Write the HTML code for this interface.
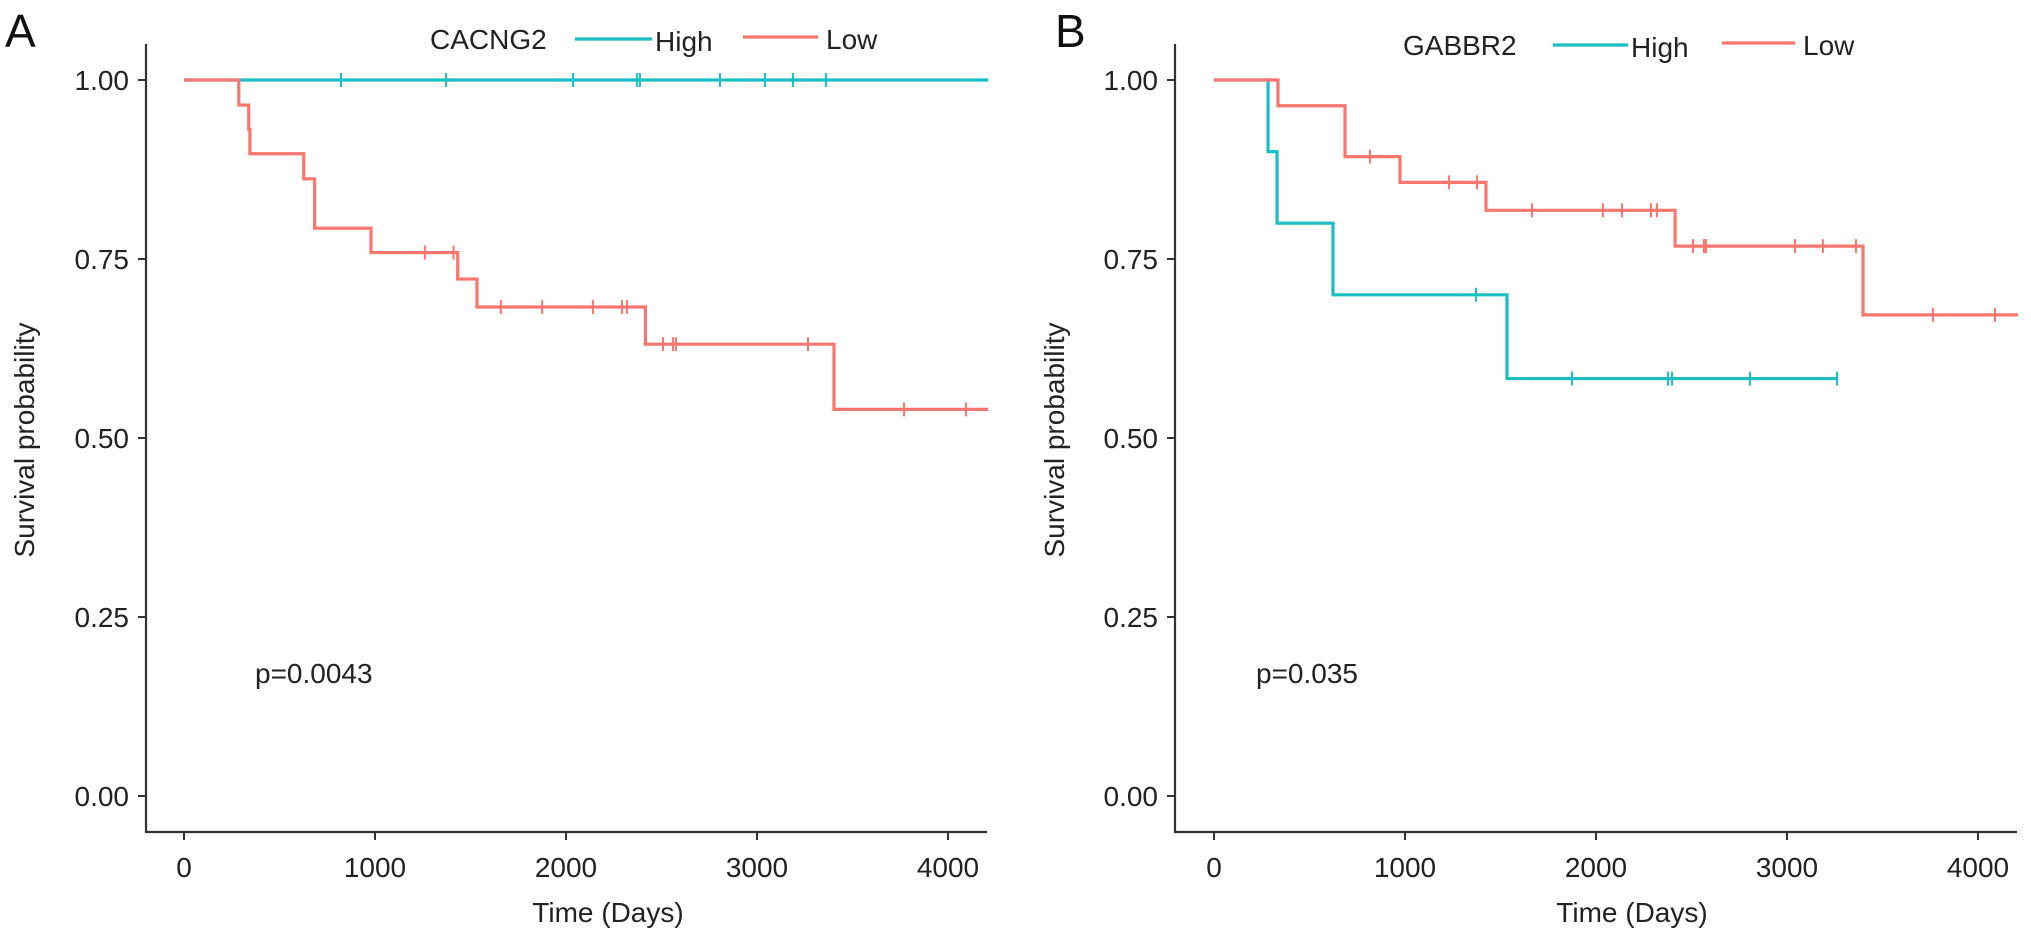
<!DOCTYPE html>
<html><head><meta charset="utf-8"><style>
html,body{margin:0;padding:0;background:#fff;}
svg{display:block;font-family:"Liberation Sans",Arial,sans-serif;}
</style></head><body>
<svg id="chart" width="2031" height="937" viewBox="0 0 2031 937"></svg>
<script>
// ---- Panel A data (CACNG2) ----
const aHighTimes = [0];
const aHighSurv = [1.0];
const aHighEnd = 4210;
const aHighCensor = [822, 1372, 2037, 2372, 2387, 2806, 3042, 3188, 3361];
const aLowTimes = [0, 287, 339, 345, 627, 684, 979, 1433, 1534, 2416, 3403];
const aLowSurv = [1.0, 0.965, 0.931, 0.897, 0.862, 0.793, 0.759, 0.722, 0.683, 0.631, 0.540];
const aLowEnd = 4210;
const aLowCensor = [1261, 1411, 1659, 1875, 2141, 2293, 2319, 2508, 2560, 2576, 3267, 3770, 4094];
// ---- Panel B data (GABBR2) ----
const bHighTimes = [0, 283, 330, 623, 1534];
const bHighSurv = [1.0, 0.9, 0.8, 0.7, 0.583];
const bHighEnd = 3262;
const bHighCensor = [1372, 1874, 2377, 2398, 2806, 3262];
const bLowTimes = [0, 335, 686, 974, 1424, 2414, 3398];
const bLowSurv = [1.0, 0.964, 0.893, 0.857, 0.818, 0.768, 0.672];
const bLowEnd = 4209;
const bLowCensor = [817, 1230, 1377, 1665, 2036, 2136, 2288, 2319, 2508, 2565, 2576, 3042, 3188, 3361, 3764, 4089];
// ---- Axis ticks ----
const xTicks = [0, 1000, 2000, 3000, 4000];
const yTicks = [0, 0.25, 0.5, 0.75, 1.0];
const yTickLabels = ["0.00", "0.25", "0.50", "0.75", "1.00"];

const NS = "http://www.w3.org/2000/svg";
const svg = document.getElementById("chart");
const TEAL = "#1bbfc3", RED = "#f8766d", AX = "#333";

function mk(tag, attrs, parent) {
  const e = document.createElementNS(NS, tag);
  for (const k in attrs) e.setAttribute(k, attrs[k]);
  (parent || svg).appendChild(e);
  return e;
}
function txt(s, attrs, parent) { const t = mk("text", attrs, parent); t.textContent = s; return t; }

function panel(cfg) {
  const g = mk("g", {});
  
  
  const X = t => cfg.x0 + t * 0.191;
  const Y = v => 796 - v * 716;
  // axes
  const ya = mk("line", {x1: cfg.axisX, y1: 44, x2: cfg.axisX, y2: 833, stroke: AX, "stroke-width": 2.2}, g);
  
  
  const xa = mk("line", {x1: cfg.axisX - 1, y1: 832, x2: cfg.axisEnd, y2: 832, stroke: AX, "stroke-width": 2.2}, g);
  
  
  yTicks.forEach((v, i) => {
    mk("line", {x1: cfg.axisX - 8, y1: Y(v), x2: cfg.axisX, y2: Y(v), stroke: AX, "stroke-width": 2}, g);
    const t = txt(yTickLabels[i], {x: cfg.axisX - 17, y: Y(v) + 10, "text-anchor": "end", "font-size": 28, fill: "#222"}, g);
    
    
  });
  xTicks.forEach(v => {
    mk("line", {x1: X(v), y1: 832, x2: X(v), y2: 840, stroke: AX, "stroke-width": 2}, g);
    const t = txt(String(v), {x: X(v), y: 877, "text-anchor": "middle", "font-size": 28, fill: "#222"}, g);
    
    
  });
  const xt = txt("Time (Days)", {x: cfg.xTitleX, y: 922, "text-anchor": "middle", "font-size": 28, fill: "#222"}, g);
  
  
  const yt = txt("Survival probability", {x: 0, y: 0, "text-anchor": "middle", "font-size": 28, fill: "#222", transform: `translate(${cfg.yTitleX},440) rotate(-90)`}, g);
  
  
  const pl = txt(cfg.letter, {x: cfg.letterX, y: 47, "font-size": 46, fill: "#111"}, g);
  
  
  const pv = txt(cfg.pval, {x: cfg.pX, y: 683, "font-size": 28, fill: "#222"}, g);
  
  

  function curve(times, surv, end, cens, color, nm) {
    let d = `M${X(times[0])},${Y(surv[0])}`;
    for (let i = 1; i < times.length; i++) {
      d += ` H${X(times[i])} V${Y(surv[i])}`;
    }
    d += ` H${X(end)}`;
    const p = mk("path", {d: d, fill: "none", stroke: color, "stroke-width": 3.2}, g);
    
    
    cens.forEach(t => {
      let v = surv[0];
      for (let i = 0; i < times.length; i++) if (times[i] <= t) v = surv[i];
      const c = mk("line", {x1: X(t), y1: Y(v) - 7, x2: X(t), y2: Y(v) + 7, stroke: color, "stroke-width": 2}, g);
      
      
    });
  }
  curve(cfg.hT, cfg.hS, cfg.hE, cfg.hC, TEAL, 'high');
  curve(cfg.lT, cfg.lS, cfg.lE, cfg.lC, RED, 'low');

  // legend
  const lg = mk("g", {}, g);
  
  
  const L = cfg.leg;
  txt(cfg.gene, {x: L.title, y: L.y + 10, "font-size": 28, fill: "#222"}, lg);
  const hl = mk("line", {x1: L.h1, y1: L.y, x2: L.h2, y2: L.y, stroke: TEAL, "stroke-width": 3.2}, lg);
  
  
  txt("High", {x: L.h2 + 3, y: L.y + 12, "font-size": 28, fill: "#222"}, lg);
  const ll = mk("line", {x1: L.l1, y1: L.y - 2, x2: L.l2, y2: L.y - 2, stroke: RED, "stroke-width": 3.2}, lg);
  
  
  txt("Low", {x: L.l2 + 8, y: L.y + 10, "font-size": 28, fill: "#222"}, lg);
}

panel({name: 'panel-a-cacng2', letter: 'A', letterX: 5, gene: 'CACNG2', pval: 'p=0.0043', pX: 255,
  axisX: 146, axisEnd: 987, x0: 184, xTitleX: 608, yTitleX: 34,
  hT: aHighTimes, hS: aHighSurv, hE: aHighEnd, hC: aHighCensor,
  lT: aLowTimes, lS: aLowSurv, lE: aLowEnd, lC: aLowCensor,
  leg: {title: 430, y: 39, h1: 575, h2: 652, l1: 743, l2: 818}});
panel({name: 'panel-b-gabbr2', letter: 'B', letterX: 1055, gene: 'GABBR2', pval: 'p=0.035', pX: 1256,
  axisX: 1175, axisEnd: 2017, x0: 1214, xTitleX: 1632, yTitleX: 1064,
  hT: bHighTimes, hS: bHighSurv, hE: bHighEnd, hC: bHighCensor,
  lT: bLowTimes, lS: bLowSurv, lE: bLowEnd, lC: bLowCensor,
  leg: {title: 1403, y: 45, h1: 1553, h2: 1628, l1: 1722, l2: 1795}});
</script>
</body></html>
